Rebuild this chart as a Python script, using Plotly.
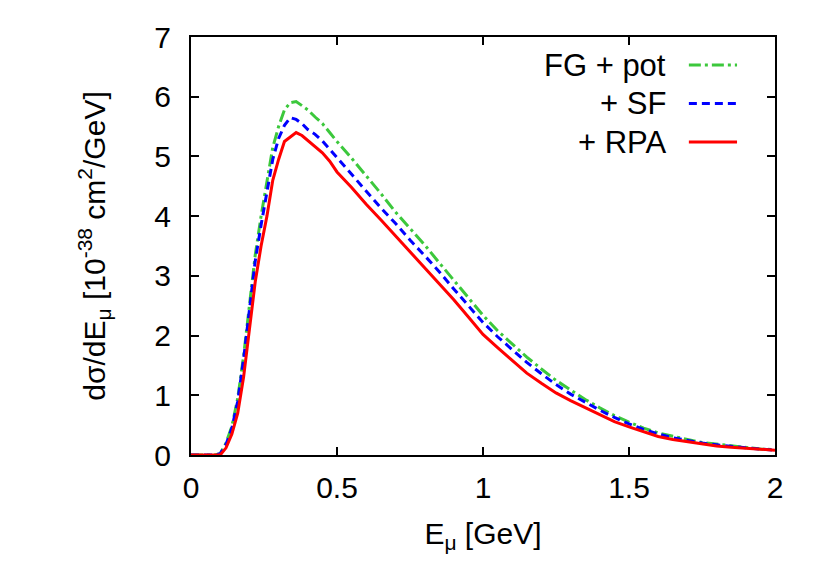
import plotly.graph_objects as go

# ---------------------------------------------------------------------------
# Datos (E_mu en GeV, dsigma/dE en 1e-38 cm^2/GeV)
# ---------------------------------------------------------------------------
e_mu = [0.0, 0.05, 0.08, 0.10, 0.12, 0.14, 0.16, 0.18, 0.20, 0.22, 0.24, 0.26,
        0.28, 0.30, 0.32, 0.34, 0.36, 0.38, 0.40, 0.425, 0.45, 0.475, 0.50,
        0.55, 0.60, 0.65, 0.70, 0.75, 0.80, 0.85, 0.90, 0.95, 1.00, 1.05,
        1.10, 1.15, 1.20, 1.25, 1.30, 1.35, 1.40, 1.45, 1.50, 1.55, 1.60,
        1.65, 1.70, 1.75, 1.80, 1.85, 1.90, 1.95, 2.00]

fg_pot = [0, 0, 0, 0.02, 0.20, 0.48, 0.95, 1.65, 2.50, 3.35, 4.00, 4.60,
          5.15, 5.50, 5.78, 5.90, 5.92, 5.85, 5.78, 5.66, 5.55, 5.40, 5.25,
          4.97, 4.68, 4.38, 4.07, 3.80, 3.52, 3.22, 2.93, 2.63, 2.34, 2.08,
          1.86, 1.64, 1.44, 1.25, 1.09, 0.93, 0.79, 0.66, 0.55, 0.45, 0.37,
          0.31, 0.26, 0.21, 0.18, 0.15, 0.12, 0.10, 0.09]

plus_sf = [0, 0, 0, 0.02, 0.18, 0.45, 0.90, 1.60, 2.45, 3.25, 3.85, 4.40,
           4.95, 5.30, 5.52, 5.65, 5.62, 5.55, 5.45, 5.37, 5.26, 5.12, 4.98,
           4.70, 4.42, 4.14, 3.88, 3.60, 3.34, 3.07, 2.78, 2.50, 2.22, 1.98,
           1.76, 1.55, 1.36, 1.18, 1.02, 0.88, 0.75, 0.63, 0.52, 0.43, 0.35,
           0.29, 0.24, 0.20, 0.17, 0.14, 0.12, 0.10, 0.08]

plus_rpa = [0, 0, 0, 0.0, 0.12, 0.35, 0.70, 1.30, 2.10, 2.90, 3.50, 4.00,
            4.60, 4.95, 5.25, 5.32, 5.40, 5.35, 5.27, 5.17, 5.06, 4.92, 4.74,
            4.48, 4.20, 3.94, 3.67, 3.40, 3.14, 2.87, 2.60, 2.31, 2.02, 1.80,
            1.58, 1.37, 1.20, 1.04, 0.91, 0.79, 0.67, 0.56, 0.47, 0.39, 0.31,
            0.26, 0.22, 0.18, 0.15, 0.13, 0.11, 0.09, 0.08]

series = [
    ('FG + pot', fg_pot, '#3cc83c', '12px,4px,3px,4px'),
    ('+ SF', plus_sf, '#0000ff', '8px,5px'),
    ('+ RPA', plus_rpa, '#ff0000', 'solid'),
]

FONT = 'Liberation Sans, Arial, sans-serif'

fig = go.Figure()
for name, vals, color, dash in series:
    fig.add_trace(go.Scatter(x=e_mu, y=vals, mode='lines', name=name,
                             line=dict(color=color, width=3, dash=dash),
                             showlegend=False))

# Leyenda estilo gnuplot: texto alineado a la derecha, muestra de línea después
annotations = []
shapes = []
for i, (name, vals, color, dash) in enumerate(series):
    yk = 6.53 - i * 0.645
    annotations.append(dict(x=1.634, y=yk, xref='x', yref='y', text=name,
                            showarrow=False, xanchor='right', yanchor='middle',
                            font=dict(size=31, family=FONT, color='black')))
    shapes.append(dict(type='line', xref='x', yref='y', x0=1.705, x1=1.87,
                       y0=yk, y1=yk, line=dict(color=color, width=3, dash=dash)))

axis_common = dict(showline=True, linecolor='black', linewidth=2, mirror='ticks',
                   ticks='inside', ticklen=8, tickwidth=2, tickcolor='black',
                   showgrid=False, zeroline=False, ticklabeloverflow='allow',
                   tickfont=dict(size=30, family=FONT, color='black'))

fig.update_layout(
    width=814, height=581,
    margin=dict(l=183, r=47, t=16, b=134),
    plot_bgcolor='white', paper_bgcolor='white',
    font=dict(family=FONT, color='black'),
    xaxis=dict(range=[0, 2], tickvals=[0, 0.5, 1, 1.5, 2],
               ticktext=['0', '0.5', '1', '1.5', '2'], ticklabelstandoff=5,
               title=dict(text='E<sub>μ</sub> [GeV]', font=dict(size=30, family=FONT),
                          standoff=20),
               **axis_common),
    yaxis=dict(range=[0, 7], tickvals=list(range(8)), ticklabelstandoff=12,
               title=dict(text='dσ/dE<sub>μ</sub> [10<sup>-38</sup> cm<sup>2</sup>/GeV]',
                          font=dict(size=30, family=FONT), standoff=40),
               **axis_common),
    annotations=annotations,
    shapes=shapes,
)

fig.write_html('out.html')
